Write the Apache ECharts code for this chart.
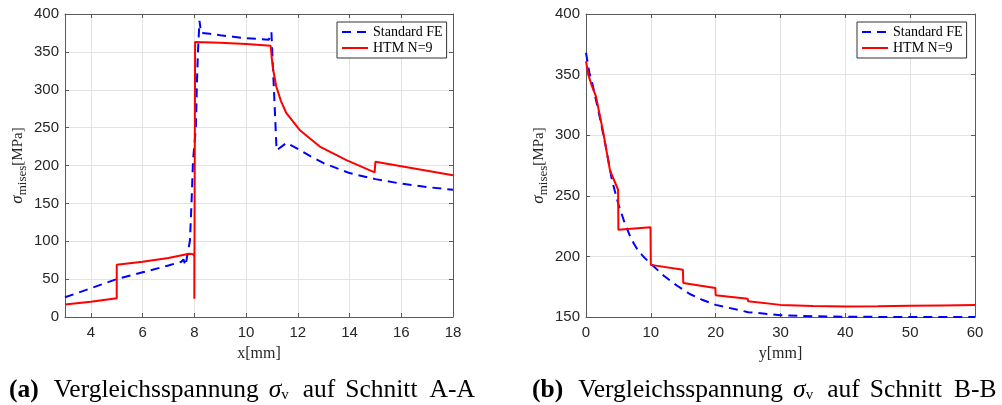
<!DOCTYPE html>
<html>
<head>
<meta charset="utf-8">
<script src="https://cdn.jsdelivr.net/npm/echarts@6.0.0/dist/echarts.min.js"></script>
<style>
  html, body { margin: 0; padding: 0; background: #fff; }
  #chart { width: 1002px; height: 405px; }
</style>
</head>
<body>
<div id="chart"></div>
<script>
// Schnitt A-A (links)
const feAx = [3, 4, 5, 6, 7, 7.5, 7.58, 7.66, 7.83, 7.89, 7.95, 8.06, 8.1, 8.14, 8.2, 8.26, 8.6, 9, 9.5, 10, 10.5, 10.88, 10.98, 11.18, 11.57, 12, 12.5, 13, 14, 15, 16, 17, 18];
const feAy = [26, 38, 50, 59, 68, 73, 76, 68, 101, 150, 207, 250, 309, 350, 391, 375, 374, 372, 370, 368, 367, 366, 376, 220, 230, 222, 212, 203, 190, 182, 176, 171.5, 168];
const htmAx = [3, 4, 5, 5, 6, 7, 7.8, 7.95, 8.0, 8.0, 8.03, 9, 10, 10.95, 11.0, 11.05, 11.17, 11.35, 11.56, 12.07, 12.85, 13.88, 14.97, 15.0, 16, 17, 18];
const htmAy = [16.5, 20, 24.6, 69, 73, 78, 83.5, 83, 80, 24, 363, 362, 360.5, 358, 340, 326, 304, 285, 269, 247, 225, 207, 191, 205, 199, 193, 187];

// Schnitt B-B (rechts)
const feBx = [0, 0.5, 1, 2, 3, 4, 5, 6, 7, 8, 9, 10, 12, 14, 16, 18, 20, 25, 30, 35, 40, 50, 60];
const feBy = [368, 352, 342, 318, 292, 263, 243, 227, 214, 205, 199, 194, 184, 176, 169, 164, 160, 154, 151.5, 150.6, 150.2, 150, 150];
const htmBx = [0, 0.36, 0.88, 1.54, 2.67, 3.7, 4.95, 5.0, 9.95, 10.0, 14.95, 15.0, 19.95, 20.0, 24.95, 25.0, 30, 35, 40, 40.05, 45, 45.05, 50, 50.05, 55, 55.05, 60];
const htmBy = [361, 350, 341, 332, 302, 271, 255, 222, 224, 193, 189, 178, 174, 168, 165, 163, 160, 159, 158.6, 159.2, 158.8, 159.3, 159.2, 159.6, 159.5, 159.8, 159.8];

const seriesNames = ['Standard FE', 'HTM N=9'];

function zip(xs, ys) {
  return xs.map((x, i) => [x, ys[i]]);
}

const axisColor = '#5a5a5a';
const gridColor = '#e3e3e3';
const labelStyle = { color: '#262626', fontSize: 15, fontFamily: 'Liberation Sans' };
const serif = 'Liberation Serif';

// Achsen unten/links mit Beschriftung, oben/rechts nur Rahmen mit Ticks
function xAx(grid, min, max, opts, main) {
  return Object.assign({
    gridIndex: grid,
    type: 'value',
    min: min,
    max: max,
    position: main ? 'bottom' : 'top',
    axisLine: { onZero: false, lineStyle: { color: axisColor } },
    axisTick: { inside: true, length: 4, lineStyle: { color: axisColor } },
    axisLabel: main ? Object.assign({ margin: 8 }, labelStyle) : { show: false },
    splitLine: { show: main, lineStyle: { color: gridColor } },
  }, opts);
}

function yAx(grid, min, max, opts, main) {
  return Object.assign({
    gridIndex: grid,
    type: 'value',
    min: min,
    max: max,
    interval: 50,
    position: main ? 'left' : 'right',
    axisLine: { show: true, onZero: false, lineStyle: { color: axisColor } },
    axisTick: { show: true, inside: true, length: 4, lineStyle: { color: axisColor } },
    axisLabel: main ? Object.assign({ margin: 6 }, labelStyle) : { show: false },
    splitLine: { show: main, lineStyle: { color: gridColor } },
  }, opts);
}

const xName = (n) => ({
  name: n,
  nameLocation: 'middle',
  nameGap: 29,
  nameTextStyle: { fontFamily: serif, fontSize: 16, color: '#262626' },
});

const yName = {
  name: '{s|σ}{sub|mises}{n|[MPa]}',
  nameLocation: 'middle',
  nameRotate: 90,
  nameGap: 36,
  nameTextStyle: {
    rich: {
      s: { fontFamily: serif, fontStyle: 'italic', fontSize: 17, color: '#262626' },
      sub: { fontFamily: serif, fontSize: 13, color: '#262626', padding: [9, 0, 0, 0] },
      n: { fontFamily: serif, fontSize: 15, color: '#262626' },
    },
  },
};

function legendAt(left) {
  return {
    data: seriesNames,
    left: left,
    top: 22,
    orient: 'vertical',
    itemWidth: 26,
    itemHeight: 14,
    itemGap: 2,
    padding: [3, 4, 3, 4],
    backgroundColor: '#fff',
    borderColor: '#333',
    borderWidth: 1,
    selectedMode: false,
    itemStyle: { opacity: 0 },
    textStyle: { fontFamily: serif, fontSize: 14, color: '#000' },
  };
}

function lineSeries(name, xi, data) {
  const blue = name === seriesNames[0];
  return {
    type: 'line',
    name: name,
    xAxisIndex: xi,
    yAxisIndex: xi,
    data: data,
    symbol: 'none',
    z: blue ? 2 : 3,
    itemStyle: { color: blue ? '#0000ff' : '#ff0000' },
    lineStyle: { color: blue ? '#0000ff' : '#ff0000', width: 2, type: blue ? [9, 6] : 'solid' },
  };
}

// Bildunterschrift: Abstände zwischen den Wörtern über padding links
const capSize = 25.5;
const captionRich = {
  b: { fontFamily: serif, fontWeight: 'bold', fontSize: capSize, fill: '#000' },
  w1: { fontFamily: serif, fontSize: capSize, fill: '#000', padding: [0, 0, 0, 15] },
  i: { fontFamily: serif, fontStyle: 'italic', fontSize: capSize, fill: '#000', padding: [0, 0, 0, 10] },
  sub: { fontFamily: serif, fontSize: 15, fill: '#000', padding: [11, 0, 0, 0] },
  w2: { fontFamily: serif, fontSize: capSize, fill: '#000', padding: [0, 0, 0, 14] },
  w3: { fontFamily: serif, fontSize: capSize, fill: '#000', padding: [0, 0, 0, 10] },
  w4: { fontFamily: serif, fontSize: capSize, fill: '#000', padding: [0, 0, 0, 12] },
};

function caption(left, tag, cut) {
  return {
    type: 'text',
    left: left,
    top: 377,
    style: {
      text: '{b|(' + tag + ')}{w1|Vergleichsspannung}{i|σ}{sub|v}{w2|auf}{w3|Schnitt}{w4|' + cut + '}',
      rich: captionRich,
      font: capSize + 'px "Liberation Serif"',
    },
  };
}

const chart = echarts.init(document.getElementById('chart'));

const option = {
  animation: false,
  backgroundColor: '#fff',
  grid: [
    { left: 65, top: 14, width: 388, height: 303 },
    { left: 586, top: 14, width: 389, height: 303 },
  ],
  legend: [legendAt(337), legendAt(857)],
  xAxis: [
    xAx(0, 3, 18, Object.assign({ splitNumber: 8, axisLabel: Object.assign({ margin: 8, showMinLabel: false }, labelStyle) }, xName('x[mm]')), true),
    xAx(0, 3, 18, { splitNumber: 8 }, false),
    xAx(1, 0, 60, Object.assign({ interval: 10 }, xName('y[mm]')), true),
    xAx(1, 0, 60, { interval: 10 }, false),
  ],
  yAxis: [
    yAx(0, 0, 400, yName, true),
    yAx(0, 0, 400, {}, false),
    yAx(1, 150, 400, yName, true),
    yAx(1, 150, 400, {}, false),
  ],
  graphic: [caption(9, 'a', 'A-A'), caption(532, 'b', 'B-B')],
  series: [
    lineSeries('Standard FE', 0, zip(feAx, feAy)),
    lineSeries('HTM N=9', 0, zip(htmAx, htmAy)),
    lineSeries('Standard FE', 2, zip(feBx, feBy)),
    lineSeries('HTM N=9', 2, zip(htmBx, htmBy)),
  ],
};
chart.setOption(option);
</script>
</body>
</html>
